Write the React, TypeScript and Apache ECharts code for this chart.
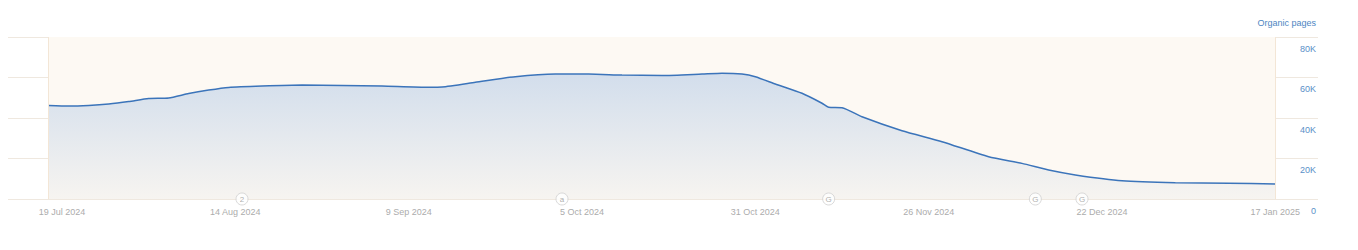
import React, { useEffect, useRef } from "react";
import * as echarts from "echarts";

// Series: organic pages, sampled dates
const dates: string[] = [
  "2024-07-17", "2024-07-20", "2024-07-23", "2024-07-26", "2024-07-29", "2024-08-01",
  "2024-08-04", "2024-08-07", "2024-08-10", "2024-08-13", "2024-08-18", "2024-08-24",
  "2024-08-30", "2024-09-05", "2024-09-12", "2024-09-14", "2024-09-19", "2024-09-25",
  "2024-10-01", "2024-10-06", "2024-10-11", "2024-10-17", "2024-10-23", "2024-10-26",
  "2024-10-29", "2024-10-31", "2024-11-03", "2024-11-07", "2024-11-10", "2024-11-11",
  "2024-11-13", "2024-11-16", "2024-11-22", "2024-11-28", "2024-12-05", "2024-12-10",
  "2024-12-14", "2024-12-18", "2024-12-25", "2025-01-02", "2025-01-10", "2025-01-17",
];
const organicPages: number[] = [
  46200, 45900, 46200, 46900, 48100, 49600,
  49900, 52100, 53800, 55100, 55800, 56300,
  56100, 55800, 55200, 55300, 57600, 60400,
  61700, 61700, 61200, 61000, 61700, 62100,
  61700, 60400, 56800, 52200, 47300, 45300,
  45100, 40600, 33700, 28300, 20900, 17600,
  14300, 11900, 9000, 8000, 7800, 7400,
];

// Annotation markers on the date axis
const markerDates: string[] = ["2024-08-15", "2024-10-02", "2024-11-11", "2024-12-12", "2024-12-19"];
const markerLabels: string[] = ["2", "a", "G", "G", "G"];

// X tick labels
const tickDates: string[] = [
  "2024-07-19", "2024-08-14", "2024-09-09", "2024-10-05",
  "2024-10-31", "2024-11-26", "2024-12-22", "2025-01-17",
];
const yTicks: number[] = [0, 20000, 40000, 60000, 80000];

const ORIGIN = Date.UTC(2024, 6, 19);
const DAY = 86400000;
const MONTHS = ["Jan", "Feb", "Mar", "Apr", "May", "Jun", "Jul", "Aug", "Sep", "Oct", "Nov", "Dec"];

function toDay(s: string): number {
  const [y, m, d] = s.split("-").map(Number);
  return Math.round((Date.UTC(y, m - 1, d) - ORIGIN) / DAY);
}
function dayLabel(v: number): string {
  const d = new Date(ORIGIN + Math.round(v) * DAY);
  return `${d.getUTCDate()} ${MONTHS[d.getUTCMonth()]} ${d.getUTCFullYear()}`;
}

export default function App() {
  const ref = useRef<HTMLDivElement>(null);
  useEffect(() => {
    document.body.style.margin = "0";
    if (!ref.current) return;
    const chart = echarts.init(ref.current, undefined, { renderer: "svg" });
    const lineData = dates.map((d, i) => [toDay(d), organicPages[i]]);
    const firstDay = toDay(dates[0]);
    const lastDay = toDay(dates[dates.length - 1]);
    const font = "'Liberation Sans', Arial, sans-serif";
    chart.setOption({
      animation: false,
      title: {
        text: "Organic pages",
        right: 37,
        top: 13,
        textStyle: { fontSize: 9, fontWeight: "normal", color: "#4d86c2", fontFamily: font },
      },
      grid: { left: 8, right: 40, top: 37, bottom: 51 },
      xAxis: {
        type: "value",
        min: -8.1,
        max: 188.4,
        axisLine: { show: false },
        axisTick: { show: false },
        splitLine: { show: false },
        axisLabel: {
          customValues: tickDates.map(toDay),
          formatter: (v: number) => dayLabel(v),
          color: "#acacac",
          fontSize: 9,
          fontFamily: font,
          margin: 8,
        },
      },
      yAxis: {
        type: "value",
        position: "right",
        min: 0,
        max: 80000,
        interval: 20000,
        axisLine: { show: false },
        axisTick: { show: false },
        splitLine: { show: true, lineStyle: { color: "#efe8df", width: 1 } },
        axisLabel: {
          inside: true,
          margin: 2,
          customValues: yTicks,
          formatter: (v: number) => (v === 0 ? "0" : `${v / 1000}K`),
          color: "#5a8fc8",
          fontSize: 9,
          fontFamily: font,
          verticalAlign: "top",
          padding: [7, 0, 0, 0],
        },
      },
      series: [
        {
          type: "line",
          data: lineData,
          smooth: 0.2,
          showSymbol: false,
          symbol: "none",
          lineStyle: { color: "#3b74ba", width: 1.5 },
          areaStyle: {
            color: new echarts.graphic.LinearGradient(0, 0, 0, 1, [
              { offset: 0, color: "#c0d2e9" },
              { offset: 1, color: "#f4f2ef" },
            ]),
          },
          markArea: {
            silent: true,
            itemStyle: { color: "#fdf9f3" },
            data: [[{ xAxis: firstDay }, { xAxis: lastDay }]],
          },
          markLine: {
            silent: true,
            symbol: "none",
            label: { show: false },
            lineStyle: { color: "#f3e6d6", width: 1, type: "solid" },
            data: [{ xAxis: firstDay }, { xAxis: lastDay }],
          },
          z: 2,
        },
        {
          type: "scatter",
          data: markerDates.map((d, i) => ({ value: [toDay(d), 0], name: markerLabels[i] })),
          symbol: "circle",
          symbolSize: 12,
          clip: false,
          itemStyle: { color: "#ffffff", borderColor: "#cfcfcf", borderWidth: 1 },
          label: {
            show: true,
            position: "inside",
            formatter: (p: any) => p.name,
            color: "#999999",
            fontSize: 8,
            fontFamily: font,
          },
          z: 5,
        },
      ],
    });
    return () => chart.dispose();
  }, []);
  return <div ref={ref} style={{ width: 1358, height: 250 }} />;
}
